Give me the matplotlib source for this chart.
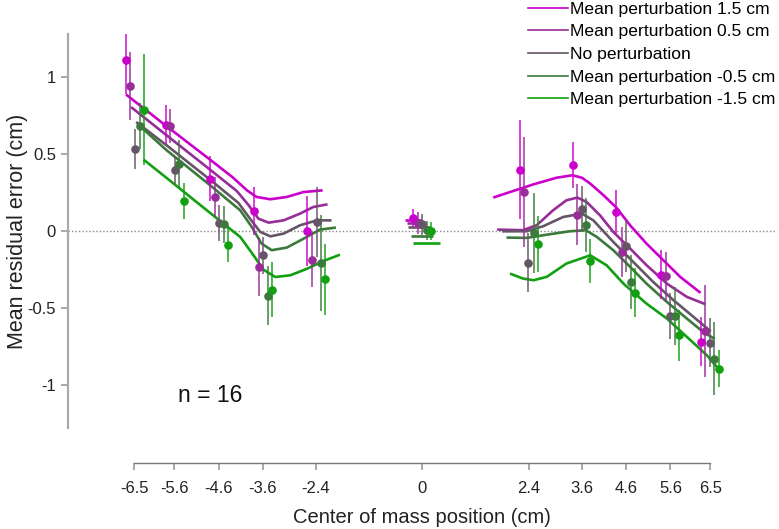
import matplotlib
matplotlib.use("Agg")
import matplotlib.pyplot as plt
from matplotlib.lines import Line2D

plt.rcParams['font.family'] = ['Liberation Sans', 'DejaVu Sans']

labels = ["Mean perturbation 1.5 cm", "Mean perturbation 0.5 cm", "No perturbation",
          "Mean perturbation -0.5 cm", "Mean perturbation -1.5 cm"]
colors = ["#cc00cc", "#982c98", "#665566", "#3b7a3b", "#10a010"]

tick_pos = [-6.5, -5.6, -4.6, -3.6, -2.4, 0, 2.4, 3.6, 4.6, 5.6, 6.5]
tick_txt = ["-6.5", "-5.6", "-4.6", "-3.6", "-2.4", "0", "2.4", "3.6", "4.6", "5.6", "6.5"]

# measured means (one row per condition), with standard errors
pt_x = [
    [-6.69, -5.79, -4.79, -3.79, -2.60, -0.20, 2.21, 3.39, 4.38, 5.39, 6.29],
    [-6.59, -5.69, -4.69, -3.69, -2.49, -0.09, 2.29, 3.50, 4.51, 5.49, 6.39],
    [-6.48, -5.58, -4.59, -3.60, -2.38, 0.00, 2.39, 3.60, 4.59, 5.60, 6.49],
    [-6.37, -5.49, -4.48, -3.48, -2.29, 0.10, 2.51, 3.69, 4.70, 5.70, 6.59],
    [-6.29, -5.38, -4.39, -3.39, -2.19, 0.20, 2.60, 3.79, 4.79, 5.79, 6.69],
]
pt_y = [
    [1.115, 0.693, 0.342, 0.132, 0.002, 0.085, 0.400, 0.433, 0.126, -0.281, -0.718],
    [0.944, 0.682, 0.223, -0.232, -0.184, 0.054, 0.255, 0.108, -0.134, -0.292, -0.647],
    [0.537, 0.396, 0.054, -0.156, 0.061, 0.045, -0.203, 0.147, -0.097, -0.552, -0.725],
    [0.682, 0.440, 0.045, -0.418, -0.205, 0.006, -0.009, 0.043, -0.329, -0.552, -0.827],
    [0.790, 0.195, -0.091, -0.379, -0.312, 0.002, -0.082, -0.193, -0.400, -0.675, -0.892],
]
pt_err = [
    [0.22, 0.125, 0.145, 0.155, 0.23, 0.06, 0.32, 0.15, 0.14, 0.16, 0.16],
    [0.22, 0.11, 0.13, 0.19, 0.18, 0.07, 0.36, 0.20, 0.16, 0.16, 0.30],
    [0.13, 0.09, 0.115, 0.12, 0.227, 0.07, 0.19, 0.15, 0.17, 0.15, 0.16],
    [0.15, 0.15, 0.12, 0.19, 0.31, 0.06, 0.26, 0.175, 0.175, 0.19, 0.24],
    [0.36, 0.117, 0.11, 0.18, 0.23, 0.06, 0.18, 0.146, 0.16, 0.165, 0.12],
]

# model fits, left side
fitL_x = [
    [-6.69, -5.77, -4.79, -4.27, -3.96, -3.74, -3.43, -3.06, -2.68, -2.25],
    [-6.575, -5.77, -4.79, -4.19, -3.92, -3.70, -3.47, -3.13, -2.76, -2.46, -2.14],
    [-6.46, -5.77, -4.79, -4.15, -3.89, -3.66, -3.43, -3.13, -2.76, -2.38, -2.05],
    [-6.37, -5.77, -4.79, -4.11, -3.85, -3.63, -3.40, -3.06, -2.68, -2.31, -1.95],
    [-6.29, -5.77, -4.79, -4.11, -3.81, -3.59, -3.32, -2.98, -2.60, -2.23, -1.86],
]
fitL_y = [
    [0.889, 0.682, 0.465, 0.348, 0.266, 0.223, 0.208, 0.223, 0.255, 0.266],
    [0.807, 0.623, 0.400, 0.262, 0.169, 0.082, 0.056, 0.071, 0.115, 0.158, 0.175],
    [0.710, 0.558, 0.335, 0.184, 0.082, -0.004, -0.033, -0.015, 0.039, 0.071, 0.071],
    [0.682, 0.526, 0.299, 0.136, 0.028, -0.080, -0.123, -0.106, -0.048, 0.011, 0.024],
    [0.465, 0.346, 0.119, -0.037, -0.156, -0.249, -0.297, -0.286, -0.243, -0.193, -0.152],
]
# middle
fitM_x = [[-0.39, -0.01], [-0.35, 0.06], [-0.32, 0.17], [-0.26, 0.25], [-0.22, 0.40]]
fitM_y = [[0.071, 0.071], [0.056, 0.056], [0.028, 0.028], [-0.03, -0.03], [-0.073, -0.073]]
# right side
fitR_x = [
    [1.60, 1.98, 2.51, 3.03, 3.39, 3.60, 3.79, 4.09, 4.38, 4.69, 5.06, 5.44, 5.82, 6.28],
    [1.69, 2.27, 2.58, 2.95, 3.25, 3.50, 3.71, 4.01, 4.31, 4.69, 5.06, 5.52, 5.97, 6.39],
    [1.80, 2.35, 2.73, 3.18, 3.60, 3.86, 4.31, 4.76, 5.21, 5.67, 6.12, 6.51],
    [1.90, 2.35, 2.88, 3.33, 3.69, 3.94, 4.31, 4.69, 5.06, 5.52, 5.97, 6.34, 6.60],
    [1.98, 2.27, 2.51, 2.81, 3.25, 3.79, 4.16, 4.54, 5.06, 5.52, 5.97, 6.42, 6.68],
]
fitR_y = [
    [0.219, 0.255, 0.305, 0.348, 0.364, 0.348, 0.310, 0.234, 0.154, 0.039, -0.080, -0.188, -0.296, -0.400],
    [0.011, 0.007, 0.039, 0.136, 0.201, 0.219, 0.190, 0.104, -0.004, -0.112, -0.220, -0.340, -0.426, -0.474],
    [0.000, 0.000, 0.033, 0.093, 0.115, 0.071, -0.069, -0.199, -0.329, -0.448, -0.556, -0.650],
    [-0.041, -0.043, -0.019, 0.000, 0.007, -0.037, -0.123, -0.231, -0.340, -0.459, -0.567, -0.654, -0.700],
    [-0.275, -0.307, -0.318, -0.296, -0.210, -0.156, -0.221, -0.340, -0.470, -0.567, -0.686, -0.805, -0.892],
]

fig = plt.figure(figsize=(7.79, 5.29), dpi=100)
ax = fig.add_axes([0.0872, 0.1904, 0.9099, 0.7448])

ax.axhline(0, color="#888888", lw=1, ls=(0, (1, 1.5)), zorder=1)

for i in range(5):
    c = colors[i]
    for fx, fy in ((fitL_x[i], fitL_y[i]), (fitM_x[i], fitM_y[i]), (fitR_x[i], fitR_y[i])):
        ax.plot(fx, fy, color=c, lw=1.9, solid_capstyle="butt", solid_joinstyle="round", zorder=2)
    ax.errorbar(pt_x[i], pt_y[i], yerr=pt_err[i], fmt="none", ecolor=c,
                elinewidth=1.4, capsize=0, alpha=0.75, zorder=3)
    ax.plot(pt_x[i], pt_y[i], "o", color=c, ms=6.2, mew=0, zorder=4)

ax.set_xlim(-8, 8)
ax.set_ylim(-1.28, 1.28)
ax.set_xticks(tick_pos)
ax.set_xticklabels(tick_txt)
ax.set_yticks([-1, -0.5, 0, 0.5, 1])
ax.set_yticklabels(["-1", "-0.5", "0", "0.5", "1"])

for s in ("top", "right"):
    ax.spines[s].set_visible(False)
ax.spines["left"].set_color("#aaaaaa")
ax.spines["left"].set_linewidth(1.6)
ax.spines["bottom"].set_position(("outward", 24.8))
ax.spines["bottom"].set_bounds(-6.5, 6.5)
ax.spines["bottom"].set_color("#777777")
ax.spines["bottom"].set_linewidth(1.0)

ax.tick_params(axis="x", direction="out", length=5, width=1.2, color="#999999",
               labelsize=12, pad=8, labelcolor="#222222")
ax.tick_params(axis="y", direction="out", length=5, width=1.2, color="#999999",
               labelsize=12, pad=3.5, labelcolor="#222222")

ax.set_xlabel("Center of mass position (cm)", fontsize=14.5, labelpad=9, color="#222222")
ax.set_ylabel("Mean residual error (cm)", fontsize=15.5, color="#222222")
ax.yaxis.set_label_coords(-0.056, 0.5)

ax.text(-5.52, -1.065, "n = 16", fontsize=16.5, va="center", ha="left", color="#111111")

handles = [Line2D([], [], color=c, lw=1.2) for c in colors]
fig.legend(handles, labels, loc="upper left", bbox_to_anchor=(528 / 779, 0.997),
           frameon=False, borderpad=0, borderaxespad=0, handlelength=2.3,
           handletextpad=0.1, labelspacing=0.42, fontsize=12.6)

fig.savefig("out.png", dpi=100)
